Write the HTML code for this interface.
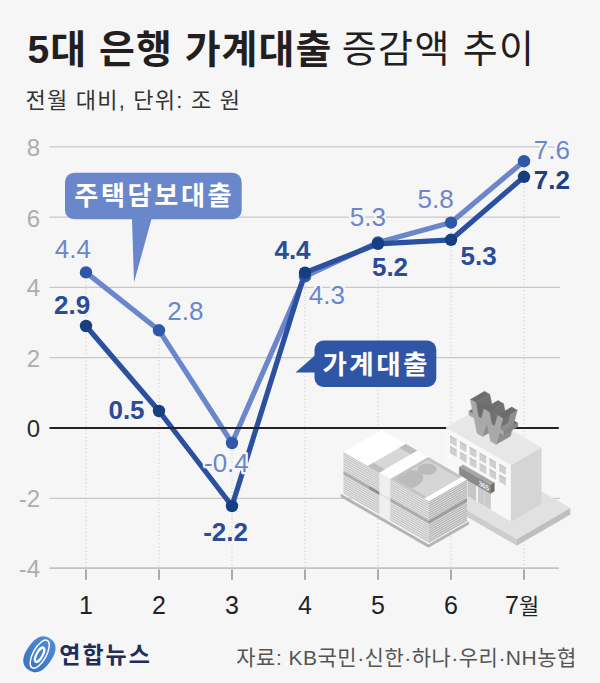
<!DOCTYPE html>
<html lang="ko">
<head>
<meta charset="utf-8">
<title>5대 은행 가계대출 증감액 추이</title>
<style>
html,body{margin:0;padding:0;background:#f6f6f6;}
body{width:600px;height:683px;overflow:hidden;position:relative;font-family:"Liberation Sans",sans-serif;}
svg{position:absolute;left:0;top:0;display:block;}
svg text{font-family:"Liberation Sans","Noto Sans CJK KR",sans-serif;}
.dl{font-size:26px;text-anchor:middle;stroke:#f6f6f6;stroke-width:4.6px;stroke-linejoin:round;paint-order:stroke fill;}
</style>
</head>
<body>
<svg width="600" height="683" viewBox="0 0 600 683">
<rect width="600" height="683" fill="#f6f6f6"/>
<text x="27.5" y="62.5" font-size="39" font-weight="bold" fill="#231f20" textLength="303.8" lengthAdjust="spacing">5대 은행 가계대출</text>
<text x="341.7" y="62" font-size="38" fill="#231f20" textLength="192.3" lengthAdjust="spacing">증감액 추이</text>
<text x="25.5" y="107.7" font-size="22" fill="#333" textLength="214.5" lengthAdjust="spacing">전월 대비, 단위: 조 원</text>
<line x1="49.5" y1="146.80" x2="560" y2="146.80" stroke="#c8c8c8" stroke-width="1.25"/>
<line x1="49.5" y1="217.10" x2="560" y2="217.10" stroke="#c8c8c8" stroke-width="1.25"/>
<line x1="49.5" y1="287.40" x2="560" y2="287.40" stroke="#c8c8c8" stroke-width="1.25"/>
<line x1="49.5" y1="357.70" x2="560" y2="357.70" stroke="#c8c8c8" stroke-width="1.25"/>
<line x1="49.5" y1="498.30" x2="560" y2="498.30" stroke="#c8c8c8" stroke-width="1.25"/>
<line x1="49.5" y1="568.2" x2="559" y2="568.2" stroke="#c2c2c2" stroke-width="1.8"/>
<text x="40.2" y="156" font-size="24" text-anchor="end" fill="#adadad">8</text>
<text x="40.2" y="226.5" font-size="24" text-anchor="end" fill="#adadad">6</text>
<text x="40.2" y="296.4" font-size="24" text-anchor="end" fill="#adadad">4</text>
<text x="40.2" y="366.8" font-size="24" text-anchor="end" fill="#adadad">2</text>
<text x="40.2" y="507" font-size="24" text-anchor="end" fill="#adadad">-2</text>
<text x="40.2" y="577" font-size="24" text-anchor="end" fill="#adadad">-4</text>
<text x="40.2" y="437" font-size="24" text-anchor="end" fill="#2a2a2a">0</text>
<line x1="86.0" y1="273.3" x2="86.0" y2="567" stroke="#cfcfcf" stroke-width="1.1" stroke-dasharray="1.2 2.6"/>
<line x1="159.0" y1="329.6" x2="159.0" y2="567" stroke="#cfcfcf" stroke-width="1.1" stroke-dasharray="1.2 2.6"/>
<line x1="232.0" y1="442.1" x2="232.0" y2="567" stroke="#cfcfcf" stroke-width="1.1" stroke-dasharray="1.2 2.6"/>
<line x1="305.0" y1="273.3" x2="305.0" y2="567" stroke="#cfcfcf" stroke-width="1.1" stroke-dasharray="1.2 2.6"/>
<line x1="378.0" y1="241.7" x2="378.0" y2="567" stroke="#cfcfcf" stroke-width="1.1" stroke-dasharray="1.2 2.6"/>
<line x1="451.0" y1="224.1" x2="451.0" y2="567" stroke="#cfcfcf" stroke-width="1.1" stroke-dasharray="1.2 2.6"/>
<line x1="524.0" y1="160.9" x2="524.0" y2="567" stroke="#cfcfcf" stroke-width="1.1" stroke-dasharray="1.2 2.6"/>
<line x1="86.0" y1="569.5" x2="86.0" y2="579.8" stroke="#777" stroke-width="1.2"/>
<line x1="159.0" y1="569.5" x2="159.0" y2="579.8" stroke="#777" stroke-width="1.2"/>
<line x1="232.0" y1="569.5" x2="232.0" y2="579.8" stroke="#777" stroke-width="1.2"/>
<line x1="305.0" y1="569.5" x2="305.0" y2="579.8" stroke="#777" stroke-width="1.2"/>
<line x1="378.0" y1="569.5" x2="378.0" y2="579.8" stroke="#777" stroke-width="1.2"/>
<line x1="451.0" y1="569.5" x2="451.0" y2="579.8" stroke="#777" stroke-width="1.2"/>
<line x1="524.0" y1="569.5" x2="524.0" y2="579.8" stroke="#777" stroke-width="1.2"/>
<polyline points="86.0,272.4 159.0,330.3 232.0,443.0 305.0,276.3 378.0,242.4 451.0,222.6 524.0,161.2" fill="none" stroke="#6b86ca" stroke-width="5.2" stroke-linejoin="round" stroke-linecap="round"/>
<circle cx="86.0" cy="272.4" r="6.2" fill="#2f58a6"/>
<circle cx="159.0" cy="330.3" r="6.2" fill="#2f58a6"/>
<circle cx="232.0" cy="443.0" r="6.2" fill="#2f58a6"/>
<circle cx="305.0" cy="276.3" r="6.2" fill="#2f58a6"/>
<circle cx="378.0" cy="242.4" r="6.2" fill="#2f58a6"/>
<circle cx="451.0" cy="222.6" r="6.2" fill="#2f58a6"/>
<circle cx="524.0" cy="161.2" r="6.2" fill="#2f58a6"/>
<polyline points="86.0,326.0 159.0,411.0 232.0,506.0 305.0,272.6 378.0,243.9 451.0,239.8 524.0,176.8" fill="none" stroke="#2b509f" stroke-width="5.2" stroke-linejoin="round" stroke-linecap="round"/>
<circle cx="86.0" cy="326.0" r="6.2" fill="#163f80"/>
<circle cx="159.0" cy="411.0" r="6.2" fill="#163f80"/>
<circle cx="232.0" cy="506.0" r="6.2" fill="#163f80"/>
<circle cx="305.0" cy="272.6" r="6.2" fill="#163f80"/>
<circle cx="378.0" cy="243.9" r="6.2" fill="#163f80"/>
<circle cx="451.0" cy="239.8" r="6.2" fill="#163f80"/>
<circle cx="524.0" cy="176.8" r="6.2" fill="#163f80"/>
<line x1="49.5" y1="428.0" x2="558.8" y2="428.0" stroke="#222" stroke-width="2.0"/>
<text class="dl" x="72.9" y="258.2" fill="#6b86ca">4.4</text>
<text class="dl" x="185.4" y="319.7" fill="#6b86ca">2.8</text>
<text class="dl" x="226.4" y="472.2" fill="#6b86ca">-0.4</text>
<text class="dl" x="326.9" y="303.5" fill="#6b86ca">4.3</text>
<text class="dl" x="367.9" y="226" fill="#6b86ca">5.3</text>
<text class="dl" x="435.6" y="207.7" fill="#6b86ca">5.8</text>
<text class="dl" x="551.9" y="158.5" fill="#6b86ca">7.6</text>
<text class="dl" x="72.2" y="313.5" font-weight="bold" fill="#2b4c97">2.9</text>
<text class="dl" x="126.5" y="419.2" font-weight="bold" fill="#2b4c97">0.5</text>
<text class="dl" x="225.6" y="540.5" font-weight="bold" fill="#2b4c97">-2.2</text>
<text class="dl" x="292.5" y="259.3" font-weight="bold" fill="#2b4c97">4.4</text>
<text class="dl" x="390" y="276" font-weight="bold" fill="#2b4c97">5.2</text>
<text class="dl" x="478.7" y="264.8" font-weight="bold" fill="#2b4c97">5.3</text>
<text class="dl" x="551.9" y="188.5" font-weight="bold" fill="#22407f">7.2</text>
<rect x="65" y="172.8" width="176.7" height="46.39999999999998" rx="9" fill="#6b87cb"/>
<polygon points="132,218 151.8,218 134,282.5" fill="#6b87cb"/>
<text x="153" y="205.2" font-size="26.2" font-weight="bold" text-anchor="middle" fill="#fff" textLength="157.4" lengthAdjust="spacing">주택담보대출</text>
<rect x="314.5" y="340.5" width="121.80000000000001" height="46.5" rx="9" fill="#2f55a5"/>
<polygon points="316,354.5 295.5,372.6 316,372.6" fill="#2f55a5"/>
<text x="375" y="374" font-size="26.5" font-weight="bold" text-anchor="middle" fill="#fff" textLength="105" lengthAdjust="spacing">가계대출</text>
<text x="86" y="614.3" font-size="25" text-anchor="middle" fill="#222">1</text>
<text x="159" y="614.3" font-size="25" text-anchor="middle" fill="#222">2</text>
<text x="232" y="614.3" font-size="25" text-anchor="middle" fill="#222">3</text>
<text x="305" y="614.3" font-size="25" text-anchor="middle" fill="#222">4</text>
<text x="378" y="614.3" font-size="25" text-anchor="middle" fill="#222">5</text>
<text x="451" y="614.3" font-size="25" text-anchor="middle" fill="#222">6</text>
<text x="505" y="614.4" font-size="25" fill="#222">7<tspan font-size="22">월</tspan></text>
<text x="236.3" y="664.7" font-size="21" fill="#555" textLength="340" lengthAdjust="spacing">자료: KB국민·신한·하나·우리·NH농협</text>
<text x="59.2" y="663.3" font-size="23" font-weight="bold" fill="#1e2d5b" textLength="90.8" lengthAdjust="spacing">연합뉴스</text>
<g id="illus"><polygon points="423.6,485.1 516.8,538.9 516.8,545.4 423.6,491.6" fill="#cdcdcd" stroke="#cdcdcd" stroke-width="0.35"/>
<polygon points="516.8,538.9 570.1,508.1 570.1,514.6 516.8,545.4" fill="#bfbfbf" stroke="#bfbfbf" stroke-width="0.35"/>
<polygon points="423.6,485.1 516.8,538.9 570.1,508.1 477.0,454.3" fill="#e1e1e1" stroke="#e1e1e1" stroke-width="0.35"/>
<polygon points="446.3,484.0 511.0,521.4 511.0,464.9 446.3,427.5" fill="#f8f8f8" stroke="#f8f8f8" stroke-width="0.35"/>
<polygon points="511.0,521.4 541.3,503.9 541.3,447.4 511.0,464.9" fill="#d5d5d5" stroke="#d5d5d5" stroke-width="0.35"/>
<polygon points="446.3,427.5 511.0,464.9 541.3,447.4 476.6,410.0" fill="#e7e7e7" stroke="#e7e7e7" stroke-width="0.35"/>
<g transform="matrix(0.866 0.5 0 1 446.30 484.00)"><rect x="4.30" y="-50.80" width="7.70" height="7.50" fill="#cfcfcf"/><rect x="4.30" y="-50.80" width="7.70" height="1.20" fill="#c2c2c2"/><rect x="15.65" y="-50.80" width="7.70" height="7.50" fill="#cfcfcf"/><rect x="15.65" y="-50.80" width="7.70" height="1.20" fill="#c2c2c2"/><rect x="27.00" y="-50.80" width="7.70" height="7.50" fill="#cfcfcf"/><rect x="27.00" y="-50.80" width="7.70" height="1.20" fill="#c2c2c2"/><rect x="38.35" y="-50.80" width="7.70" height="7.50" fill="#cfcfcf"/><rect x="38.35" y="-50.80" width="7.70" height="1.20" fill="#c2c2c2"/><rect x="49.70" y="-50.80" width="7.70" height="7.50" fill="#cfcfcf"/><rect x="49.70" y="-50.80" width="7.70" height="1.20" fill="#c2c2c2"/><rect x="61.05" y="-50.80" width="7.70" height="7.50" fill="#cfcfcf"/><rect x="61.05" y="-50.80" width="7.70" height="1.20" fill="#c2c2c2"/><rect x="4.30" y="-40.30" width="7.70" height="7.50" fill="#cfcfcf"/><rect x="4.30" y="-40.30" width="7.70" height="1.20" fill="#c2c2c2"/><rect x="15.65" y="-40.30" width="7.70" height="7.50" fill="#cfcfcf"/><rect x="15.65" y="-40.30" width="7.70" height="1.20" fill="#c2c2c2"/><rect x="27.00" y="-40.30" width="7.70" height="7.50" fill="#cfcfcf"/><rect x="27.00" y="-40.30" width="7.70" height="1.20" fill="#c2c2c2"/><rect x="38.35" y="-40.30" width="7.70" height="7.50" fill="#cfcfcf"/><rect x="38.35" y="-40.30" width="7.70" height="1.20" fill="#c2c2c2"/><rect x="49.70" y="-40.30" width="7.70" height="7.50" fill="#cfcfcf"/><rect x="49.70" y="-40.30" width="7.70" height="1.20" fill="#c2c2c2"/><rect x="61.05" y="-40.30" width="7.70" height="7.50" fill="#cfcfcf"/><rect x="61.05" y="-40.30" width="7.70" height="1.20" fill="#c2c2c2"/><rect x="24.50" y="-20.00" width="10.00" height="20.00" fill="#c6c6c6"/><rect x="36.50" y="-20.00" width="15.00" height="20.00" fill="#cbcbcb"/><rect x="43.60" y="-20.00" width="0.90" height="20.00" fill="#dcdcdc"/></g>
<polygon points="459.3,467.0 490.5,485.0 494.4,482.8 463.2,464.8" fill="#a6a6a6" stroke="#a6a6a6" stroke-width="0.35"/>
<polygon points="490.5,493.5 494.4,491.2 494.4,482.8 490.5,485.0" fill="#6e6e6e" stroke="#6e6e6e" stroke-width="0.35"/>
<polygon points="459.3,475.5 490.5,493.5 490.5,485.0 459.3,467.0" fill="#8a8a8a" stroke="#8a8a8a" stroke-width="0.35"/>
<text transform="matrix(0.866 0.5 0 1 478.63 485.17)" x="0" y="0" font-size="7.2" font-weight="bold" fill="#f4f4f4">365</text>
<polygon points="486.6,422.0 482.6,436.6 496.9,428.4 500.9,413.7" fill="#8e8e8e" stroke="#8e8e8e" stroke-width="0.35"/>
<polygon points="475.7,402.6 479.9,423.4 494.2,415.2 489.9,394.4" fill="#717171" stroke="#717171" stroke-width="0.35"/>
<polygon points="470.2,399.5 475.7,402.6 489.9,394.4 484.5,391.2" fill="#6d6d6d" stroke="#6d6d6d" stroke-width="0.35"/>
<polygon points="479.9,423.4 483.9,408.9 498.2,400.6 494.2,415.2" fill="#717171" stroke="#717171" stroke-width="0.35"/>
<polygon points="468.8,411.2 503.6,431.3 517.9,423.1 483.1,402.9" fill="#6d6d6d" stroke="#6d6d6d" stroke-width="0.35"/>
<polygon points="489.3,412.1 493.3,431.2 507.6,422.9 503.6,403.8" fill="#717171" stroke="#717171" stroke-width="0.35"/>
<polygon points="483.9,408.9 489.3,412.1 503.6,403.8 498.2,400.6" fill="#6d6d6d" stroke="#6d6d6d" stroke-width="0.35"/>
<polygon points="503.0,418.4 496.1,444.4 510.4,436.2 517.3,410.2" fill="#8e8e8e" stroke="#8e8e8e" stroke-width="0.35"/>
<polygon points="493.3,431.2 497.6,415.3 511.9,407.1 507.6,422.9" fill="#717171" stroke="#717171" stroke-width="0.35"/>
<polygon points="503.6,431.3 503.6,435.0 517.9,426.8 517.9,423.1" fill="#868686" stroke="#868686" stroke-width="0.35"/>
<polygon points="497.6,415.3 503.0,418.4 517.3,410.2 511.9,407.1" fill="#6d6d6d" stroke="#6d6d6d" stroke-width="0.35"/>
<polygon points="470.2,399.5 475.7,402.6 479.9,423.4 483.9,408.9 489.3,412.1 493.3,431.2 497.6,415.3 503.0,418.4 496.1,444.4 490.6,441.3 486.6,422.0 482.6,436.6 477.1,433.5" fill="#a9a9a9" stroke="#a9a9a9" stroke-width="0.35"/>
<polygon points="468.8,411.2 503.6,431.3 503.6,435.0 468.8,414.9" fill="#a9a9a9" stroke="#a9a9a9" stroke-width="0.35"/>
<polygon points="340.9,497.0 428.5,547.6 468.7,524.4 468.7,521.4 428.5,544.6 340.9,494.0" fill="#b3b3b3" stroke="#b3b3b3" stroke-width="0.35"/>
<g transform="matrix(0.866 0.5 0 1 343.50 494.00)"><rect x="0.00" y="-42.00" width="98.70" height="42.00" fill="#e6e6e6"/><rect x="0.00" y="-2.00" width="98.70" height="1.00" fill="#bdbdbd"/><rect x="0.00" y="-4.25" width="98.70" height="1.00" fill="#bdbdbd"/><rect x="0.00" y="-6.50" width="98.70" height="1.00" fill="#bdbdbd"/><rect x="0.00" y="-8.75" width="98.70" height="1.00" fill="#bdbdbd"/><rect x="0.00" y="-11.00" width="98.70" height="1.00" fill="#bdbdbd"/><rect x="0.00" y="-13.25" width="98.70" height="1.00" fill="#bdbdbd"/><rect x="0.00" y="-15.50" width="98.70" height="1.00" fill="#bdbdbd"/><rect x="0.00" y="-17.75" width="98.70" height="1.00" fill="#bdbdbd"/><rect x="0.00" y="-20.00" width="98.70" height="1.00" fill="#bdbdbd"/><rect x="0.00" y="-24.05" width="98.70" height="1.00" fill="#bdbdbd"/><rect x="0.00" y="-26.30" width="98.70" height="1.00" fill="#bdbdbd"/><rect x="0.00" y="-28.55" width="98.70" height="1.00" fill="#bdbdbd"/><rect x="0.00" y="-30.80" width="98.70" height="1.00" fill="#bdbdbd"/><rect x="0.00" y="-33.05" width="98.70" height="1.00" fill="#bdbdbd"/><rect x="0.00" y="-35.30" width="98.70" height="1.00" fill="#bdbdbd"/><rect x="0.00" y="-37.55" width="98.70" height="1.00" fill="#bdbdbd"/><rect x="0.00" y="-39.80" width="98.70" height="1.00" fill="#bdbdbd"/><rect x="0.00" y="-42.05" width="98.70" height="1.00" fill="#bdbdbd"/><rect x="0.00" y="-22.80" width="98.70" height="3.00" fill="#ababab"/><rect x="41.40" y="-42.00" width="12.60" height="42.00" fill="#efefef"/><rect x="29.50" y="-22.80" width="11.90" height="3.00" fill="#8f8f8f"/><rect x="41.40" y="-22.00" width="12.60" height="1.60" fill="#dddddd"/></g>
<g transform="matrix(0.866 -0.5 0 1 428.97 543.35)"><rect x="0.00" y="-42.00" width="43.90" height="42.00" fill="#dcdcdc"/><rect x="0.00" y="-2.00" width="43.90" height="1.00" fill="#ababab"/><rect x="0.00" y="-4.25" width="43.90" height="1.00" fill="#ababab"/><rect x="0.00" y="-6.50" width="43.90" height="1.00" fill="#ababab"/><rect x="0.00" y="-8.75" width="43.90" height="1.00" fill="#ababab"/><rect x="0.00" y="-11.00" width="43.90" height="1.00" fill="#ababab"/><rect x="0.00" y="-13.25" width="43.90" height="1.00" fill="#ababab"/><rect x="0.00" y="-15.50" width="43.90" height="1.00" fill="#ababab"/><rect x="0.00" y="-17.75" width="43.90" height="1.00" fill="#ababab"/><rect x="0.00" y="-20.00" width="43.90" height="1.00" fill="#ababab"/><rect x="0.00" y="-24.05" width="43.90" height="1.00" fill="#ababab"/><rect x="0.00" y="-26.30" width="43.90" height="1.00" fill="#ababab"/><rect x="0.00" y="-28.55" width="43.90" height="1.00" fill="#ababab"/><rect x="0.00" y="-30.80" width="43.90" height="1.00" fill="#ababab"/><rect x="0.00" y="-33.05" width="43.90" height="1.00" fill="#ababab"/><rect x="0.00" y="-35.30" width="43.90" height="1.00" fill="#ababab"/><rect x="0.00" y="-37.55" width="43.90" height="1.00" fill="#ababab"/><rect x="0.00" y="-39.80" width="43.90" height="1.00" fill="#ababab"/><rect x="0.00" y="-42.05" width="43.90" height="1.00" fill="#ababab"/><rect x="0.00" y="-22.80" width="43.90" height="3.00" fill="#9c9c9c"/></g>
<g transform="matrix(0.866 0.5 0.866 -0.5 343.50 452.00)"><rect x="0.00" y="0.00" width="98.70" height="43.90" fill="#ffffff"/><rect x="28.00" y="0.00" width="13.40" height="43.90" fill="#d7d7d7"/><rect x="28.00" y="0.00" width="13.40" height="6.50" fill="#bdbdbd"/><rect x="28.00" y="36.40" width="13.40" height="7.50" fill="#bdbdbd"/><rect x="41.40" y="0.00" width="12.60" height="43.90" fill="#fdfdfd"/><rect x="54.00" y="0.00" width="39.00" height="43.90" fill="#c3c3c3"/><rect x="57.00" y="3.00" width="36.00" height="37.40" fill="#d6d6d6"/><clipPath id="billclip"><rect x="57" y="3" width="36" height="37.4"/></clipPath><g clip-path="url(#billclip)"><circle cx="65.5" cy="31" r="8" fill="#bbbbbb"/><ellipse cx="64" cy="7" rx="12.5" ry="17" fill="#bbbbbb"/></g></g></g>
<defs><linearGradient id="lg" x1="0" y1="0" x2="1" y2="0"><stop offset="0" stop-color="#3a74c2"/><stop offset="1" stop-color="#4f8bd6"/></linearGradient></defs>
<g transform="translate(39.4,654.3) rotate(-55)">
<path d="M19.00,0.00 L18.86,2.38 L18.46,4.21 L17.79,5.84 L16.85,7.30 L15.67,8.60 L14.23,9.74 L12.56,10.72 L10.66,11.53 L8.53,12.17 L6.16,12.63 L3.48,12.91 L0.00,13.00 L-3.48,12.91 L-6.16,12.63 L-8.53,12.17 L-10.66,11.53 L-12.56,10.72 L-14.23,9.74 L-15.67,8.60 L-16.85,7.30 L-17.79,5.84 L-18.46,4.21 L-18.86,2.38 L-19.00,0.00 L-18.86,-2.38 L-18.46,-4.21 L-17.79,-5.84 L-16.85,-7.30 L-15.67,-8.60 L-14.23,-9.74 L-12.56,-10.72 L-10.66,-11.53 L-8.53,-12.17 L-6.16,-12.63 L-3.48,-12.91 L-0.00,-13.00 L3.48,-12.91 L6.16,-12.63 L8.53,-12.17 L10.66,-11.53 L12.56,-10.72 L14.23,-9.74 L15.67,-8.60 L16.85,-7.30 L17.79,-5.84 L18.46,-4.21 L18.86,-2.38Z" fill="url(#lg)"/>
<g transform="rotate(-6)">
<ellipse cx="0.3" cy="0.2" rx="15.6" ry="6.6" fill="none" stroke="#fff" stroke-width="1.5"/>
<ellipse cx="-0.3" cy="0.4" rx="8.0" ry="3.0" fill="none" stroke="#fff" stroke-width="2.3"/>
</g>
</g>

</svg>
</body>
</html>
